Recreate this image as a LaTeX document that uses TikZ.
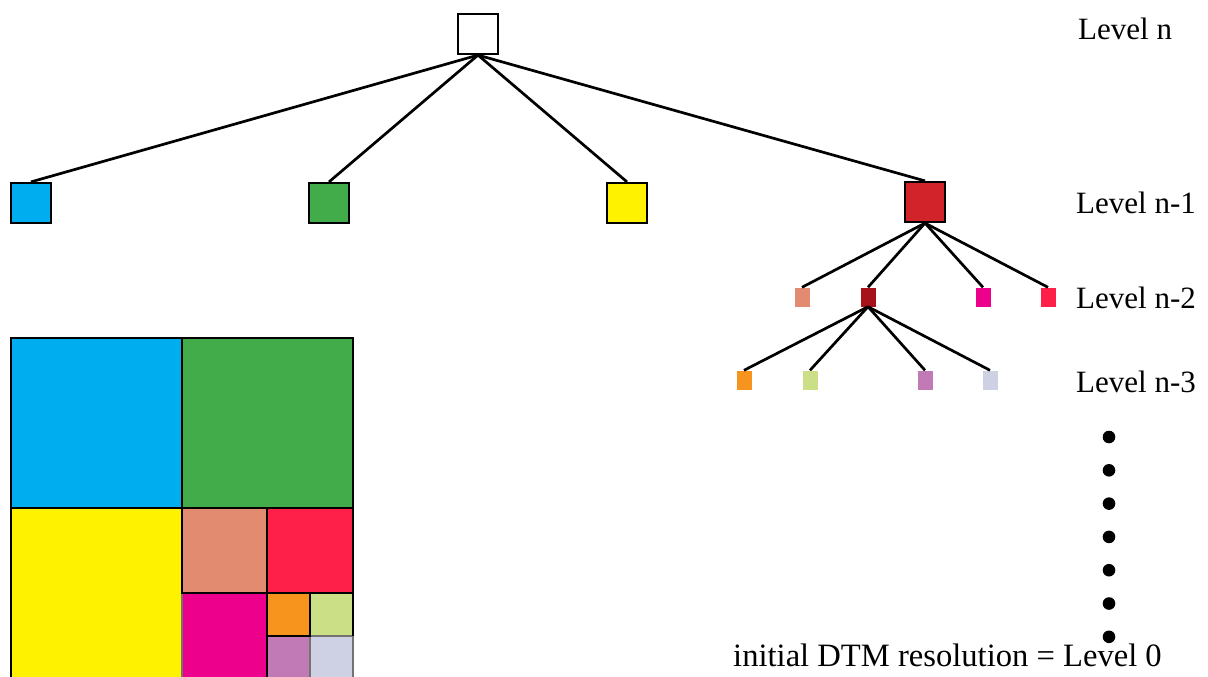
\documentclass[tikz,border=0pt]{standalone}
\usepackage{fontspec}
\setmainfont{Liberation Serif}
\definecolor{qblue}{HTML}{00AEEF}
\definecolor{qgreen}{HTML}{43AC4A}
\definecolor{qyellow}{HTML}{FFF200}
\definecolor{qred}{HTML}{D2232A}
\definecolor{qsalmon}{HTML}{E38B70}
\definecolor{qdarkred}{HTML}{A6121A}
\definecolor{qmagenta}{HTML}{EC008C}
\definecolor{qcrimson}{HTML}{FF2049}
\definecolor{qorange}{HTML}{F7941D}
\definecolor{qlime}{HTML}{CBE086}
\definecolor{qpurple}{HTML}{C27AB6}
\definecolor{qlavender}{HTML}{CED0E4}
\begin{document}
\begin{tikzpicture}[x=1pt,y=-1pt,
  bigbox/.style={draw=black,line width=2.2pt,minimum width=40pt,minimum height=40pt,inner sep=0pt},
  smallbox/.style={draw=none,minimum width=15pt,minimum height=19pt,inner sep=0pt},
  link/.style={line width=2.7pt,black},
  lvl/.style={anchor=base west,inner sep=0pt,font=\fontsize{31}{36}\selectfont},
  cell/.style={draw=black,line width=2pt},
  softcell/.style={draw=black!55,line width=1.2pt}]
\useasboundingbox (0,0) rectangle (1208,677);
\clip (0,0) rectangle (1208,677);

% tree: level n
\node[bigbox,fill=white] (root) at (478,34) {};
% level n-1
\node[bigbox,fill=qblue]   (a1) at (31,203) {};
\node[bigbox,fill=qgreen]  (a2) at (329,203) {};
\node[bigbox,fill=qyellow] (a3) at (627,203) {};
\node[bigbox,fill=qred]    (a4) at (925,202) {};
% level n-2
\node[smallbox,fill=qsalmon]  (b1) at (802,297) {};
\node[smallbox,fill=qdarkred] (b2) at (868,297) {};
\node[smallbox,fill=qmagenta] (b3) at (983,297) {};
\node[smallbox,fill=qcrimson] (b4) at (1048,297) {};
% level n-3
\node[smallbox,fill=qorange]   (c1) at (744,380) {};
\node[smallbox,fill=qlime]     (c2) at (810,380) {};
\node[smallbox,fill=qpurple]   (c3) at (925,380) {};
\node[smallbox,fill=qlavender] (c4) at (990,380) {};

\foreach \k in {a1,a2,a3,a4} \draw[link] (root.south) -- (\k.north);
\foreach \k in {b1,b2,b3,b4} \draw[link] (a4.south) -- (\k.north);
\foreach \k in {c1,c2,c3,c4} \draw[link] (b2.south) -- (\k.north);

% level labels
\node[lvl] (ln)  at (1078,40)  {Level n};
\node[lvl] (ln1) at (1076,213) {Level n-1};
\node[lvl] (ln2) at (1076,308) {Level n-2};
\node[lvl] (ln3) at (1076,392) {Level n-3};

% continuation dots
\foreach \yy in {437,470.3,503.6,536.9,570.2,603.5,636.8}
  \fill[black] (1109,\yy) circle (6.3pt);
\node[lvl,font=\fontsize{32.6}{38}\selectfont] (l0) at (733,666) {initial DTM resolution = Level 0};

% quadtree partition
\fill[qblue]   (11,338) rectangle (182,508);
\fill[qgreen]  (182,338) rectangle (353,508);
\fill[qyellow] (11,508) rectangle (182,690);
\fill[qsalmon] (182,508) rectangle (267,593);
\fill[qcrimson](267,508) rectangle (353,593);
\fill[qmagenta](182,593) rectangle (267,690);
\fill[qorange] (267,593) rectangle (310,636);
\fill[qlime]   (310,593) rectangle (353,636);
\fill[qpurple] (267,636) rectangle (310,690);
\fill[qlavender](310,636) rectangle (353,690);
\draw[softcell] (310,593) rectangle (353,636);
\draw[softcell] (267,636) rectangle (310,690);
\draw[softcell] (310,636) rectangle (353,690);
\draw[softcell] (182,593) -- (182,690);
\draw[cell] (11,690) -- (11,338) -- (353,338) -- (353,636);
\draw[cell] (182,338) -- (182,593) -- (353,593);
\draw[cell] (11,508) -- (353,508);
\draw[cell] (267,508) -- (267,690);
\draw[cell] (267,593) rectangle (310,636);
\end{tikzpicture}
\end{document}
